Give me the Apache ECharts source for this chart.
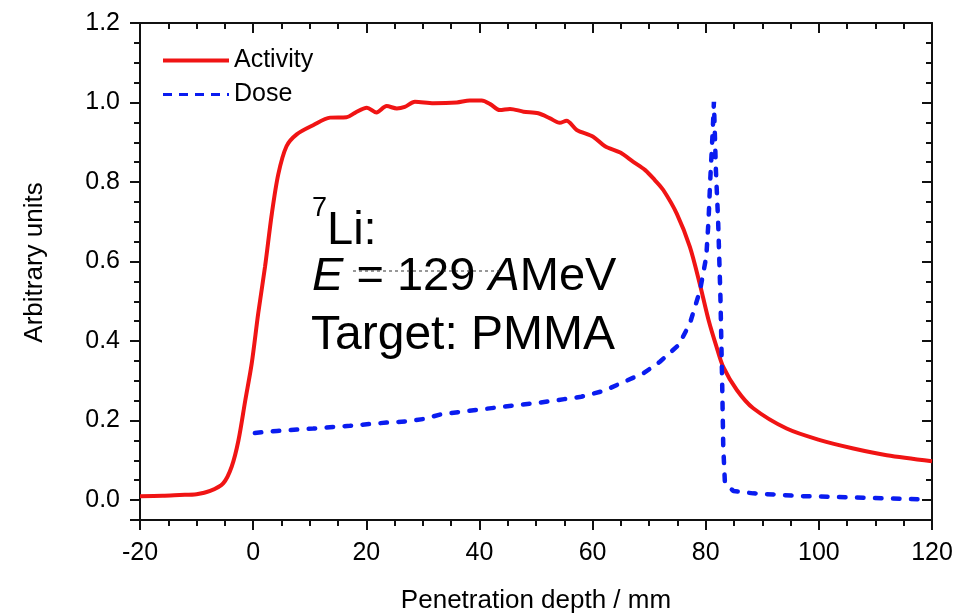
<!DOCTYPE html>
<html>
<head>
<meta charset="utf-8">
<script src="https://cdn.jsdelivr.net/npm/echarts@6/dist/echarts.min.js"></script>
<style>
html,body{margin:0;padding:0;background:#fff;}
#chart{width:970px;height:615px;}
</style>
</head>
<body>
<div id="chart"></div>
<script>
// ---- data ----
const activityX = [-20, -16, -13, -10, -7.6, -5.3, -3.8, -2.6, -1.4, -0.25, 0.9, 2.1, 3.3, 4.45, 5.9, 7.7, 10.6, 13.6, 16.5, 18.0, 20.1, 21.8, 23.6, 25.4, 26.8, 28.6, 31.9, 36.0, 38.3, 40.4, 41.9, 43.6, 45.4, 47.8, 50.4, 52.5, 54.2, 55.4, 57.2, 60.1, 62.2, 64.9, 67.2, 69.3, 71.0, 72.5, 74.9, 77.2, 79.0, 80.5, 81.9, 83.1, 85.5, 88.4, 94.3, 100.2, 106.1, 112.0, 120];
const activityY = [0.010, 0.011, 0.013, 0.015, 0.023, 0.042, 0.084, 0.15, 0.25, 0.344, 0.47, 0.587, 0.72, 0.82, 0.89, 0.92, 0.943, 0.962, 0.963, 0.974, 0.987, 0.975, 0.991, 0.985, 0.989, 1.002, 0.998, 1.0, 1.005, 1.005, 0.996, 0.981, 0.984, 0.977, 0.973, 0.96, 0.949, 0.954, 0.931, 0.914, 0.89, 0.874, 0.851, 0.83, 0.805, 0.78, 0.72, 0.637, 0.541, 0.453, 0.386, 0.335, 0.277, 0.231, 0.18, 0.151, 0.13, 0.113, 0.098];
const doseX = [0.3, 4.2, 10.6, 17.1, 23.6, 27.1, 30.1, 33.0, 36.6, 43.1, 46.6, 50.5, 55.0, 58.0, 62.0, 65.0, 69.0, 71.9, 75.2, 77.2, 79.0, 80.1, 80.5, 80.8, 81.1, 81.3, 81.45, 81.8, 82.2, 82.6, 82.9, 83.1, 83.4, 84.9, 88.4, 97.2, 106.1, 118.0];
const doseY = [0.169, 0.174, 0.18, 0.187, 0.195, 0.198, 0.204, 0.215, 0.222, 0.233, 0.239, 0.245, 0.254, 0.26, 0.275, 0.294, 0.319, 0.348, 0.39, 0.444, 0.528, 0.612, 0.704, 0.805, 0.889, 0.95, 1.002, 0.83, 0.70, 0.511, 0.302, 0.134, 0.042, 0.023, 0.017, 0.01, 0.007, 0.002];
const seriesNames = ['Activity', 'Dose'];
const xTitle = 'Penetration depth / mm';
const yTitle = 'Arbitrary units';
const noteLines = ['7', 'Li:', '{i|E} = 129 {i|A}MeV', 'Target: PMMA'];

const FONT = "'Liberation Sans', Arial, Helvetica, sans-serif";
const AX = '#111';
const zip = (xs, ys) => xs.map((x, i) => [x, ys[i]]);

const chart = echarts.init(document.getElementById('chart'), null, {renderer: 'canvas'});

const baseX = {
  type: 'value', min: -20, max: 120, interval: 20,
  splitLine: {show: false},
  axisLine: {onZero: false, lineStyle: {color: AX, width: 2}},
  axisTick: {length: 10, lineStyle: {color: AX, width: 2}},
  minorTick: {show: true, splitNumber: 4, length: 6, lineStyle: {color: AX, width: 2}},
  minorSplitLine: {show: false}
};
const baseYMajor = {
  type: 'value', min: -0.05, max: 1.2, splitNumber: 6,
  splitLine: {show: false},
  axisLine: {onZero: false, lineStyle: {color: AX, width: 2}},
  axisTick: {length: 10, lineStyle: {color: AX, width: 2}}
};
const baseYMinor = {
  type: 'value', min: -0.05, max: 1.2, interval: 0.05,
  splitLine: {show: false},
  axisLabel: {show: false},
  axisLine: {show: false, onZero: false},
  axisTick: {length: 6, lineStyle: {color: AX, width: 2}}
};

const option = {
  backgroundColor: '#fff',
  animation: false,
  grid: {left: 140, right: 38, top: 23, bottom: 95, containLabel: false, outerBoundsMode: 'none'},
  legend: {
    orient: 'vertical', left: 161, top: 48, padding: 0,
    itemWidth: 66, itemHeight: 14, itemGap: 9,
    itemStyle: {opacity: 0},
    textStyle: {fontSize: 25, color: '#000', fontFamily: FONT},
    data: [
      {name: seriesNames[0], lineStyle: {width: 4}},
      {name: seriesNames[1], lineStyle: {width: 3, type: [9, 7], cap: 'butt'}}
    ]
  },
  xAxis: [
    Object.assign({}, baseX, {
      position: 'bottom',
      name: xTitle, nameLocation: 'middle', nameGap: 68,
      nameTextStyle: {fontSize: 26, color: '#000', fontFamily: FONT},
      axisLabel: {fontSize: 25, color: '#000', fontFamily: FONT, margin: 21}
    }),
    Object.assign({}, baseX, {
      position: 'top',
      axisLabel: {show: false},
      axisTick: {inside: true, length: 10, lineStyle: {color: AX, width: 2}},
      minorTick: {show: true, splitNumber: 4, length: 6, lineStyle: {color: AX, width: 2}}
    })
  ],
  yAxis: [
    Object.assign({}, baseYMajor, {
      position: 'left',
      name: yTitle, nameLocation: 'middle', nameGap: 92, nameRotate: 90,
      nameTextStyle: {fontSize: 26, color: '#000', fontFamily: FONT, padding: [0, 0, 0, 18]},
      axisLabel: {
        fontSize: 25, color: '#000', fontFamily: FONT, margin: 20,
        formatter: v => (v < -0.001 ? '' : v.toFixed(1))
      }
    }),
    Object.assign({}, baseYMinor, {position: 'left'}),
    Object.assign({}, baseYMajor, {
      position: 'right',
      axisLabel: {show: false},
      axisTick: {inside: true, length: 10, lineStyle: {color: AX, width: 2}}
    }),
    Object.assign({}, baseYMinor, {
      position: 'right',
      axisTick: {inside: true, length: 6, lineStyle: {color: AX, width: 2}}
    })
  ],
  series: [
    {
      name: seriesNames[0], type: 'line', xAxisIndex: 0, yAxisIndex: 0,
      data: zip(activityX, activityY),
      showSymbol: false, symbol: 'none', smooth: 0.3,
      lineStyle: {color: '#f01414', width: 4},
      itemStyle: {color: '#f01414'},
      z: 3
    },
    {
      name: seriesNames[1], type: 'line', xAxisIndex: 0, yAxisIndex: 0,
      data: zip(doseX, doseY),
      showSymbol: false, symbol: 'none', smooth: false,
      lineStyle: {color: '#0a1cf0', width: 4.5, type: [6.5, 11.5], cap: 'round'},
      itemStyle: {color: '#0a1cf0'},
      z: 4
    }
  ],
  graphic: [
    {type: 'text', x: 312, y: 209, z: 10,
      style: {text: noteLines[0], fontSize: 27, fontFamily: FONT, fill: '#000', verticalAlign: 'middle'}},
    {type: 'text', x: 327, y: 231, z: 10,
      style: {text: noteLines[1], fontSize: 47, fontFamily: FONT, fill: '#000', verticalAlign: 'middle'}},
    {type: 'text', x: 312, y: 277, z: 10,
      style: {text: noteLines[2], fontSize: 47, fontFamily: FONT, fill: '#000', verticalAlign: 'middle',
        rich: {i: {fontSize: 47, fontStyle: 'italic', fontFamily: FONT, fill: '#000'}}}},
    {type: 'text', x: 311, y: 336, z: 10,
      style: {text: noteLines[3], fontSize: 48, fontFamily: FONT, fill: '#000', verticalAlign: 'middle'}},
    {type: 'line', z: 11,
      shape: {x1: 353, y1: 271, x2: 503, y2: 271},
      style: {stroke: '#333', lineWidth: 1, lineDash: [3, 3]}}
  ]
};
chart.setOption(option);
</script>
</body>
</html>
